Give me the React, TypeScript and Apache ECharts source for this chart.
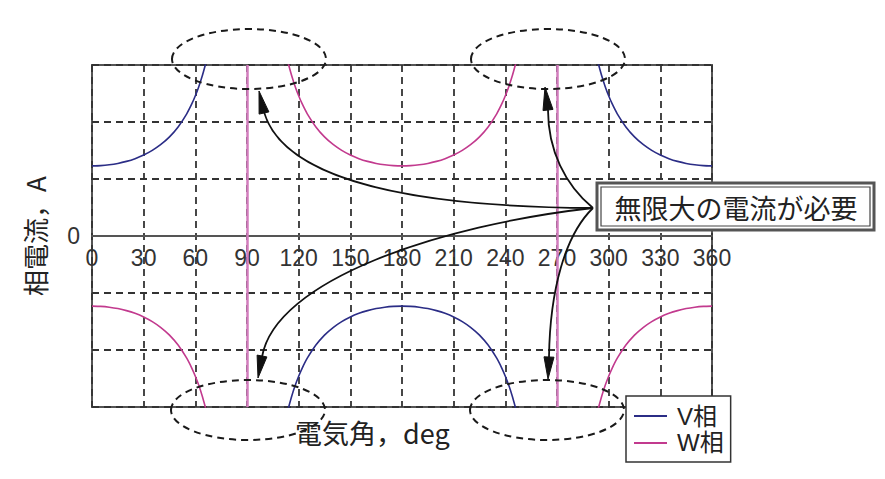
import React, { useEffect, useRef } from "react";
import * as echarts from "echarts";

// ---- data ----
const xTicks = [0, 30, 60, 90, 120, 150, 180, 210, 240, 270, 300, 330, 360];
const asymptoteAngles = [90, 270];

const vSegment1 = [[0, 1.23], [5, 1.235], [10, 1.249], [15, 1.273], [20, 1.309], [25, 1.357], [30, 1.42], [35, 1.502], [40, 1.606], [45, 1.739], [50, 1.914], [55, 2.144], [58, 2.321], [60, 2.46], [62, 2.62], [64, 2.806], [65.8, 3.0], [66.4, 3.07]];
const vSegment2 = [[113.6, -3.07], [114.2, -3.0], [116, -2.806], [118, -2.62], [120, -2.46], [122, -2.321], [125, -2.144], [130, -1.914], [135, -1.739], [140, -1.606], [145, -1.502], [150, -1.42], [155, -1.357], [160, -1.309], [165, -1.273], [170, -1.249], [175, -1.235], [180, -1.23], [185, -1.235], [190, -1.249], [195, -1.273], [200, -1.309], [205, -1.357], [210, -1.42], [215, -1.502], [220, -1.606], [225, -1.739], [230, -1.914], [235, -2.144], [238, -2.321], [240, -2.46], [242, -2.62], [244, -2.806], [245.8, -3.0], [246.4, -3.07]];
const vSegment3 = [[293.6, 3.07], [294.2, 3.0], [296, 2.806], [298, 2.62], [300, 2.46], [302, 2.321], [305, 2.144], [310, 1.914], [315, 1.739], [320, 1.606], [325, 1.502], [330, 1.42], [335, 1.357], [340, 1.309], [345, 1.273], [350, 1.249], [355, 1.235], [360, 1.23]];

const wSegment1 = [[0, -1.23], [5, -1.235], [10, -1.249], [15, -1.273], [20, -1.309], [25, -1.357], [30, -1.42], [35, -1.502], [40, -1.606], [45, -1.739], [50, -1.914], [55, -2.144], [58, -2.321], [60, -2.46], [62, -2.62], [64, -2.806], [65.8, -3.0], [66.4, -3.07]];
const wSegment2 = [[113.6, 3.07], [114.2, 3.0], [116, 2.806], [118, 2.62], [120, 2.46], [122, 2.321], [125, 2.144], [130, 1.914], [135, 1.739], [140, 1.606], [145, 1.502], [150, 1.42], [155, 1.357], [160, 1.309], [165, 1.273], [170, 1.249], [175, 1.235], [180, 1.23], [185, 1.235], [190, 1.249], [195, 1.273], [200, 1.309], [205, 1.357], [210, 1.42], [215, 1.502], [220, 1.606], [225, 1.739], [230, 1.914], [235, 2.144], [238, 2.321], [240, 2.46], [242, 2.62], [244, 2.806], [245.8, 3.0], [246.4, 3.07]];
const wSegment3 = [[293.6, -3.07], [294.2, -3.0], [296, -2.806], [298, -2.62], [300, -2.46], [302, -2.321], [305, -2.144], [310, -1.914], [315, -1.739], [320, -1.606], [325, -1.502], [330, -1.42], [335, -1.357], [340, -1.309], [345, -1.273], [350, -1.249], [355, -1.235], [360, -1.23]];

const seriesNames = ["V相", "W相"];
const yAxisTitle = "相電流，A";
const xAxisTitle = "電気角，deg";
const noteText = "無限大の電流が必要";

const V_COLOR = "#2b2d86";
const W_COLOR = "#c23a8e";
const JP = "'Noto Sans CJK JP', 'Noto Sans', sans-serif";
const LAT = "'Liberation Sans', Arial, 'Noto Sans CJK JP', sans-serif";

export default function App() {
  const ref = useRef<HTMLDivElement>(null);

  useEffect(() => {
    if (!ref.current) return;
    const chart = echarts.init(ref.current, null, { renderer: "svg" });

    const dash = [7, 5];
    const arrowStyle = { stroke: "#111", lineWidth: 1.8, fill: "none" };
    const headStyle = { fill: "#111", stroke: "#111", lineWidth: 1 };

    const GRID_TOP = 65;
    const GRID_H = 342;

    const ellipse = (cx: number, cy: number) => ({
      type: "ellipse",
      shape: { cx, cy, rx: 77, ry: 30 },
      style: { fill: "none", stroke: "#1a1a1a", lineWidth: 2, lineDash: dash },
      z: 50,
      silent: true,
    });

    const option: any = {
      animation: false,
      backgroundColor: "#fff",
      grid: {
        left: 92,
        top: GRID_TOP,
        width: 620,
        height: GRID_H,
        show: true,
        borderColor: "#555",
        borderWidth: 2,
        backgroundColor: "transparent",
      },
      xAxis: {
        type: "value",
        min: 0,
        max: 360,
        interval: 30,
        position: "bottom",
        offset: -GRID_H / 2,
        axisLine: { show: true, onZero: false, lineStyle: { color: "#555", width: 2 } },
        axisTick: { show: false },
        axisLabel: {
          show: true,
          margin: 10,
          fontSize: 23,
          color: "#333",
          fontFamily: LAT,
          showMinLabel: true,
          showMaxLabel: true,
          hideOverlap: false,
          formatter: (v: number) => (xTicks.includes(v) ? String(v) : ""),
        },
        splitLine: { show: true, lineStyle: { color: "#333", width: 1.8, type: dash } },
      },
      yAxis: {
        type: "value",
        min: -3,
        max: 3,
        interval: 1,
        axisLine: { show: false },
        axisTick: { show: false },
        axisLabel: {
          show: true,
          margin: 12,
          fontSize: 23,
          color: "#333",
          fontFamily: LAT,
          formatter: (v: number) => (v === 0 ? "0" : ""),
        },
        splitLine: { show: true, lineStyle: { color: "#333", width: 1.8, type: dash } },
      },
      legend: {
        data: seriesNames,
        orient: "vertical",
        left: 626,
        top: 396,
        padding: [8, 7, 7, 8],
        itemGap: 3,
        itemWidth: 33,
        itemHeight: 2,
        icon: "rect",
        borderColor: "#333",
        borderWidth: 1.5,
        backgroundColor: "#fff",
        z: 100,
        textStyle: { fontSize: 24, color: "#222", fontFamily: LAT, padding: [0, 0, 0, 5] },
      },
      series: [
        {
          name: seriesNames[0],
          type: "line",
          symbol: "none",
          smooth: 0.2,
          connectNulls: false,
          clip: true,
          lineStyle: { color: V_COLOR, width: 1.6 },
          itemStyle: { color: V_COLOR },
          data: [...vSegment1, [90, null], ...vSegment2, [270, null], ...vSegment3],
          z: 3,
        },
        {
          name: seriesNames[1],
          type: "line",
          symbol: "none",
          smooth: 0.2,
          connectNulls: false,
          clip: true,
          lineStyle: { color: W_COLOR, width: 1.6 },
          itemStyle: { color: W_COLOR },
          data: [...wSegment1, [90, null], ...wSegment2, [270, null], ...wSegment3],
          z: 4,
          markLine: {
            silent: true,
            symbol: ["none", "none"],
            label: { show: false },
            lineStyle: { color: "#d27cbd", width: 2.5, type: "solid" },
            data: asymptoteAngles.map((a) => ({ xAxis: a })),
          },
        },
      ],
      graphic: [
        // y-axis title (rotated)
        {
          type: "text",
          x: 34,
          y: 236,
          rotation: Math.PI / 2,
          style: {
            text: yAxisTitle,
            fontSize: 26,
            fontFamily: JP,
            fill: "#222",
            align: "center",
            verticalAlign: "middle",
          },
          z: 60,
        },
        // x-axis title
        {
          type: "text",
          x: 295,
          y: 432,
          style: {
            text: xAxisTitle,
            fontSize: 27,
            fontFamily: JP,
            fill: "#222",
            align: "left",
            verticalAlign: "middle",
          },
          z: 60,
        },
        ellipse(249, 59),
        ellipse(548, 59),
        ellipse(248, 410),
        ellipse(547, 410),
        // arrows
        {
          type: "bezierCurve",
          shape: { x1: 593, y1: 208, cpx1: 430, cpy1: 207, cpx2: 285, cpy2: 185, x2: 264, y2: 112 },
          style: arrowStyle,
          z: 60,
        },
        {
          type: "polygon",
          shape: { points: [[259, 91], [268.9, 111.9], [259.1, 114.1]] },
          style: headStyle,
          z: 60,
        },
        {
          type: "bezierCurve",
          shape: { x1: 593, y1: 208, cpx1: 440, cpy1: 225, cpx2: 275, cpy2: 280, x2: 262, y2: 357 },
          style: arrowStyle,
          z: 60,
        },
        {
          type: "polygon",
          shape: { points: [[258, 378], [266.9, 356.9], [257.1, 355.1]] },
          style: headStyle,
          z: 60,
        },
        {
          type: "bezierCurve",
          shape: { x1: 593, y1: 208, cpx1: 565, cpy1: 185, cpx2: 548, cpy2: 150, x2: 548, y2: 110 },
          style: arrowStyle,
          z: 60,
        },
        {
          type: "polygon",
          shape: { points: [[545, 87], [553, 109.4], [543, 110.6]] },
          style: headStyle,
          z: 60,
        },
        {
          type: "bezierCurve",
          shape: { x1: 593, y1: 208, cpx1: 565, cpy1: 235, cpx2: 550, cpy2: 290, x2: 549, y2: 357 },
          style: arrowStyle,
          z: 60,
        },
        {
          type: "polygon",
          shape: { points: [[548, 379], [554, 357.2], [544, 356.8]] },
          style: headStyle,
          z: 60,
        },
        // annotation box
        {
          type: "rect",
          shape: { x: 597, y: 183, width: 277, height: 47 },
          style: { fill: "#fff", stroke: "#555", lineWidth: 3 },
          z: 70,
        },
        {
          type: "rect",
          shape: { x: 601, y: 187, width: 269, height: 39 },
          style: { fill: "#fff", stroke: "#444", lineWidth: 1.2 },
          z: 71,
        },
        {
          type: "text",
          x: 736,
          y: 207,
          style: {
            text: noteText,
            fontSize: 27,
            fontFamily: JP,
            fill: "#222",
            align: "center",
            verticalAlign: "middle",
          },
          z: 72,
        },
      ],
    };

    chart.setOption(option);
    return () => chart.dispose();
  }, []);

  return (
    <div
      ref={ref}
      style={{ position: "fixed", left: 0, top: 0, width: 885, height: 479, background: "#fff" }}
    />
  );
}
